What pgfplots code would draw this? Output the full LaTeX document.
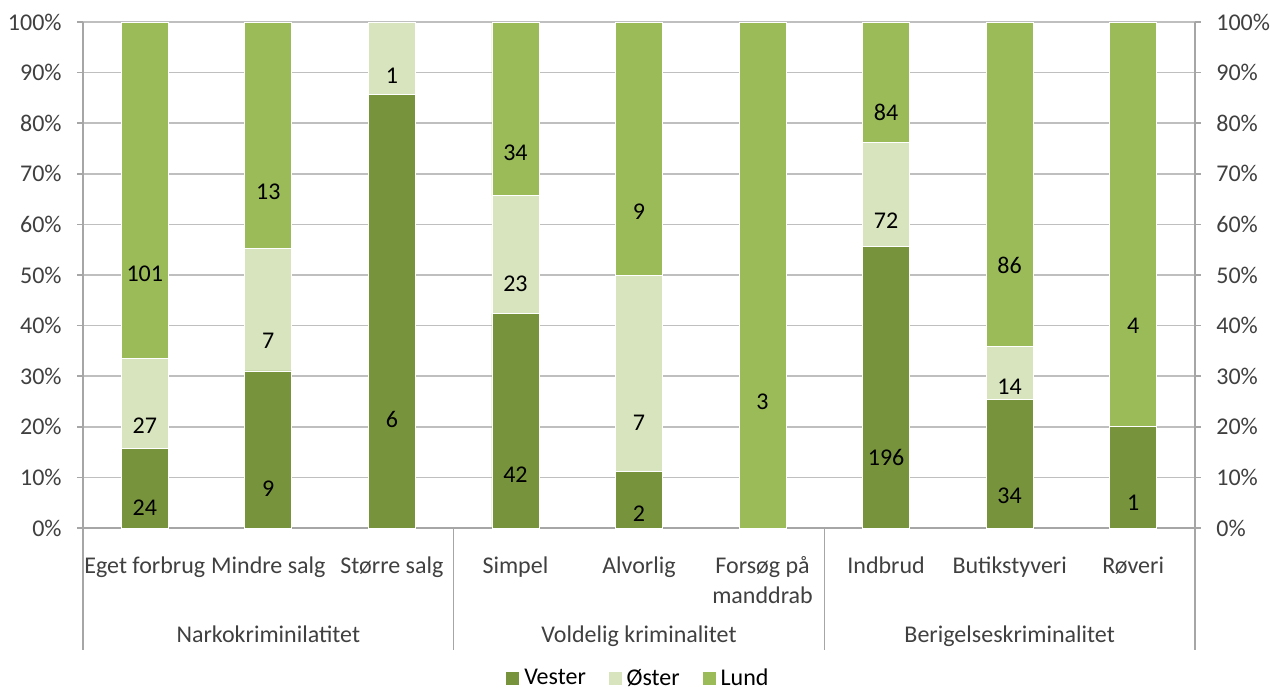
\documentclass[border=0pt]{standalone}
\usepackage{fontspec}
\setmainfont{Carlito}
\usepackage{pgfplots}
\pgfplotsset{compat=1.18}
\usepackage{pgfplotstable}

\definecolor{vester}{HTML}{77933C}
\definecolor{oster}{HTML}{D7E4BD}
\definecolor{lund}{HTML}{9BBB59}
\definecolor{gridgray}{HTML}{BFBFBF}
\definecolor{axisgray}{HTML}{A6A6A6}
\definecolor{txt}{HTML}{404040}

% shares in percent (p) and counts (n) per category
\pgfplotstableread{
x  vp     vn   op     on   lp      ln
0  15.79  24   17.76  27   66.45   101
1  31.03  9    24.14  7    44.83   13
2  85.71  6    14.29  1    0       0
3  42.42  42   23.23  23   34.35   34
4  11.11  2    38.89  7    50.00   9
5  0      0    0      0    100     3
6  55.68  196  20.45  72   23.87   84
7  25.37  34   10.45  14   64.18   86
8  20.00  1    0      0    80.00   4
}\data

\pgfplotsset{
  common/.style={
    at={(0,0)}, anchor=south west,
    scale only axis, width=556pt, height=253pt,
    xmin=-0.5, xmax=8.5, ymin=0, ymax=100,
    ytick={0,10,...,100},
    yticklabel={\pgfmathprintnumber[assume math mode=true]{\tick}\%},
    tick align=outside, major tick length=3pt,
    axis line style={-, axisgray, line width=0.8pt},
    tick style={axisgray, line width=0.8pt},
    ticklabel style={text=txt},
  },
}

\begin{document}
\begin{tikzpicture}[font=\fontsize{12}{15}\selectfont]
\useasboundingbox (-41.5pt,-82pt) rectangle (593.5pt,264pt);
\begin{axis}[
  common,
  clip=false,
  ybar stacked, bar width=0.38,
  axis x line*=bottom, axis y line*=left,
  ymajorgrids, grid style={gridgray, line width=0.8pt},
  xtick=data,
  xtick style={draw=none},
  xticklabels={Eget forbrug, Mindre salg, St{ø}rre salg, Simpel, Alvorlig,
    {\begin{tabular}[t]{@{}c@{}}Fors{ø}g p{å}\\manddrab\end{tabular}},
    Indbrud, Butikstyveri, R{ø}veri},
  xticklabel style={anchor=base, yshift=-19.5pt},
  yticklabel style={inner sep=0pt, xshift=-7.5pt},
  point meta=explicit,
  visualization depends on={rawy \as \rawy},
  nodes near coords={\pgfmathfloatifflags{\pgfplotspointmeta}{0}{}{\pgfmathprintnumber[assume math mode=true]{\pgfplotspointmeta}}},
  every node near coord/.append style={anchor=center, yshift={-0.6325pt*\rawy}, text=black},
  legend style={at={(0.5,-0.298)}, anchor=center, draw=none, legend columns=3,
    /tikz/every even column/.append style={column sep=9pt}},
  legend image code/.code={\fill[#1] (0pt,-3.5pt) rectangle (7pt,3.5pt);},
]
\addplot[fill=vester, draw=white, line width=0.4pt] table[x=x, y=vp, meta=vn] {\data};
\addlegendentry{Vester}
\addplot[fill=oster, draw=white, line width=0.4pt] table[x=x, y=op, meta=on] {\data};
\addlegendentry{{Ø}ster}
\addplot[fill=lund, draw=white, line width=0.4pt] table[x=x, y=lp, meta=ln] {\data};
\addlegendentry{Lund}

\draw[axisgray, line width=0.8pt] (axis cs:-0.5,0) -- ++(0pt,-61pt);
\draw[axisgray, line width=0.8pt] (axis cs:2.5,0) -- ++(0pt,-61pt);
\draw[axisgray, line width=0.8pt] (axis cs:5.5,0) -- ++(0pt,-61pt);
\draw[axisgray, line width=0.8pt] (axis cs:8.5,0) -- ++(0pt,-61pt);
\node[anchor=base, yshift=-57pt, text=txt] at (axis cs:1,0) {Narkokriminilatitet};
\node[anchor=base, yshift=-57pt, text=txt] at (axis cs:4,0) {Voldelig kriminalitet};
\node[anchor=base, yshift=-57pt, text=txt] at (axis cs:7,0) {Berigelseskriminalitet};
\end{axis}

\begin{axis}[
  common,
  axis y line*=right, axis x line=none,
  yticklabel style={inner sep=0pt, xshift=7.5pt},
]
\addplot[draw=none] coordinates {(0,0)};
\end{axis}
\end{tikzpicture}
\end{document}
